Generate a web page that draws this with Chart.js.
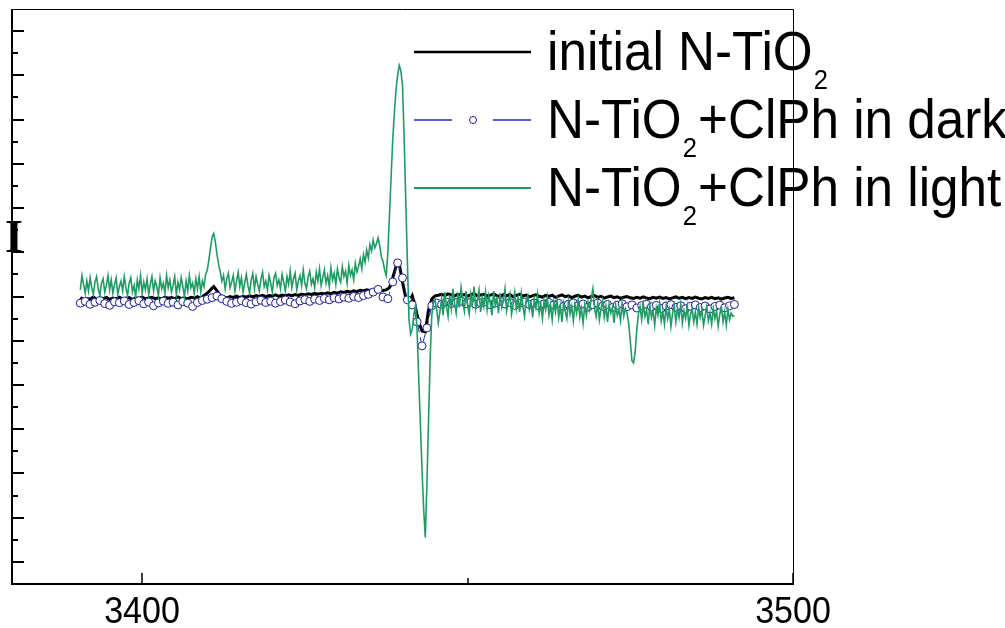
<!DOCTYPE html>
<html>
<head>
<meta charset="utf-8">
<title>EPR spectra N-TiO2</title>
<script src="https://cdn.jsdelivr.net/npm/chart.js@4.4.0/dist/chart.umd.min.js"></script>
<style>
  html, body { margin: 0; padding: 0; background: #fff; }
  #wrap { width: 1005px; height: 628px; }
</style>
</head>
<body>
<div id="wrap"><canvas id="eprChart" width="1005" height="628"></canvas></div>
<script>
// magnetic field sweep (G)
const fieldStart = 3390.5;
const fieldStep = 0.5;      // initial N-TiO2 trace
const lightStep = 0.25;     // light trace, recorded finer
const darkStep = 0.75;      // circle trace

const xTickValues = [3400, 3450, 3500];
const xTickLabels = ['3400', '', '3500'];
const yTickValues = [-12, -11, -10, -9, -8, -7, -6, -5, -4, -3, -2, -1, 0, 1, 2, 3, 4, 5, 6, 7, 8, 9, 10, 11, 12];

const seriesNames = [
    ['initial N-TiO', '2', ''],
    ['N-TiO', '2', '+ClPh in dark'],
    ['N-TiO', '2', '+ClPh in light']
];

// initial N-TiO2
const initialVals = [
    -0.05, -0.15, -0.08, -0.12, -0.02, -0.14, -0.06, -0.10, -0.04, -0.13,
    -0.07, -0.11, -0.03, -0.12, -0.08, -0.05, -0.14, -0.06, -0.09, -0.02,
    -0.11, -0.07, -0.04, -0.10, -0.06, -0.12, -0.03, -0.08, -0.05, -0.10,
    -0.02, -0.09, -0.06, -0.11, -0.04, -0.07, -0.01, -0.08, 0.05, 0.15,
    0.30, 0.45, 0.25, 0.05, -0.02, -0.06, 0.00, -0.04, 0.02, -0.05,
    0.01, -0.03, 0.03, -0.02, 0.04, 0.00, 0.05, -0.01, 0.04, 0.02,
    0.07, 0.01, 0.06, 0.03, 0.08, 0.04, 0.09, 0.05, 0.11, 0.07,
    0.12, 0.09, 0.14, 0.10, 0.15, 0.12, 0.17, 0.13, 0.19, 0.15,
    0.21, 0.18, 0.23, 0.20, 0.26, 0.22, 0.28, 0.25, 0.30, 0.27,
    0.30, 0.32, 0.29, 0.27, 0.30, 0.40, 0.85, 1.35, 1.47, 0.66,
    -0.06, -0.24, 0.03, -0.52, -1.15, -1.56, -1.60, -0.61, -0.11, 0.03,
    0.06, 0.10, 0.04, 0.12, 0.07, 0.02, 0.11, 0.05, 0.09, 0.01,
    0.08, 0.13, 0.03, 0.07, 0.10, 0.02, 0.06, 0.11, 0.04, 0.00,
    0.08, 0.03, 0.09, -0.01, 0.05, 0.10, 0.02, 0.06, -0.02, 0.04,
    0.08, 0.01, -0.03, 0.05, 0.00, 0.06, -0.04, 0.02, 0.07, -0.01,
    0.03, -0.05, 0.01, 0.05, -0.03, 0.02, -0.06, 0.00, 0.04, -0.04,
    0.01, -0.07, -0.02, 0.02, -0.05, -0.01, -0.08, -0.03, 0.00, -0.06,
    -0.09, -0.04, -0.08, -0.02, -0.07, -0.10, -0.04, -0.08, -0.03, -0.09,
    -0.05, -0.11, -0.06, -0.02, -0.08, -0.04, -0.10, -0.05, -0.09, -0.03,
    -0.08, -0.11, -0.05, -0.09, -0.04, -0.10, -0.06, -0.12, -0.07, -0.04,
    -0.09, -0.06
];

// N-TiO2 + ClPh, dark
const darkVals = [
    -0.30, -0.22, -0.35, -0.26, -0.18, -0.32, -0.40, -0.24, -0.28, -0.20,
    -0.36, -0.27, -0.19, -0.33, -0.25, -0.42, -0.29, -0.21, -0.31, -0.26,
    -0.38, -0.23, -0.30, -0.45, -0.27, -0.18, -0.12, -0.05, 0.02, -0.10,
    -0.22, -0.31, -0.26, -0.19, -0.28, -0.34, -0.24, -0.17, -0.27, -0.21,
    -0.30, -0.23, -0.16, -0.25, -0.33, -0.20, -0.14, -0.22, -0.12, -0.18,
    -0.09, -0.15, -0.06, -0.11, -0.03, -0.08, 0.00, -0.05, 0.04, 0.10,
    0.20, 0.32, -0.02, -0.10, 0.66, 1.52, 0.84, -0.15, -0.38, -1.15,
    -2.23, -1.42, -0.42, -0.30, -0.36, -0.25, -0.32, -0.28, -0.21, -0.33,
    -0.26, -0.35, -0.29, -0.24, -0.37, -0.30, -0.22, -0.34, -0.27, -0.40,
    -0.31, -0.25, -0.36, -0.29, -0.43, -0.33, -0.27, -0.38, -0.31, -0.45,
    -0.35, -0.29, -0.41, -0.34, -0.48, -0.37, -0.30, -0.44, -0.36, -0.50,
    -0.39, -0.33, -0.46, -0.38, -0.52, -0.41, -0.35, -0.47, -0.40, -0.54,
    -0.43, -0.37, -0.49, -0.42, -0.55, -0.44, -0.38, -0.50, -0.43, -0.56,
    -0.45, -0.39, -0.51, -0.42, -0.36
];

// N-TiO2 + ClPh, light
const lightVals = [
    0.30, 0.95, 0.55, 0.15, 0.70, 0.25, 0.85, 0.40, 0.10, 0.65,
    0.90, 0.35, 0.05, 0.60, 0.80, 0.20, 0.50, 0.95, 0.30, 0.75,
    0.15, 0.55, 0.85, 0.10, 0.45, 0.70, 0.25, 0.90, 0.40, 0.05,
    0.60, 0.85, 0.20, 0.50, 0.00, 0.75, 0.35, 0.95, 0.15, 0.65,
    0.30, 0.80, 0.10, 0.55, 0.90, 0.25, 0.70, 0.45, 0.05, 0.85,
    0.35, 0.60, 0.15, 0.95, 0.40, 0.75, 0.20, 0.50, 0.90, 0.10,
    0.65, 0.30, 0.85, 0.45, 0.00, 0.70, 0.25, 0.95, 0.40, 0.60,
    0.15, 0.80, 0.35, 0.90, 0.20, 0.70, 0.45, 1.00, 1.20, 1.65,
    2.20, 2.70, 2.85, 2.45, 1.90, 1.45, 1.10, 0.70, 0.95, 0.35,
    0.80, 1.05, 0.40, 0.65, 0.95, 0.25, 0.70, 1.10, 0.45, 0.85,
    0.20, 0.60, 1.00, 0.50, 0.15, 0.75, 1.05, 0.35, 0.90, 0.55,
    0.25, 0.80, 1.10, 0.45, 0.70, 0.30, 0.95, 0.60, 0.20, 0.85,
    1.05, 0.50, 0.75, 0.35, 1.00, 0.65, 0.25, 0.90, 0.55, 1.15,
    0.40, 0.80, 1.05, 0.30, 0.70, 0.95, 0.50, 1.20, 0.60, 0.35,
    0.90, 1.15, 0.55, 0.80, 0.40, 1.10, 0.70, 1.25, 0.50, 0.85,
    1.20, 0.60, 0.95, 0.45, 1.30, 0.75, 1.05, 0.55, 1.25, 0.85,
    0.65, 1.35, 0.90, 1.15, 0.60, 1.40, 0.95, 1.20, 0.75, 1.50,
    1.10, 1.35, 1.70, 1.25, 1.90, 1.55, 2.10, 1.75, 2.35, 2.05,
    2.55, 2.20, 2.40, 2.65, 2.30, 1.80, 1.60, 1.20, 0.95, 2.00,
    3.70, 5.40, 7.10, 8.30, 9.35, 10.00, 10.45, 10.20, 9.55, 7.20,
    4.35, 1.60, -1.05, -1.70, -1.50, -0.80, -0.40, -1.60, -3.75, -5.80,
    -7.85, -9.60, -10.90, -8.50, -5.60, -2.80, -0.85, -0.30, -0.15, -0.60,
    -1.20, -0.70, -0.10, -0.85, 0.20, -0.45, -0.90, 0.05, -0.55, 0.35,
    -0.30, -0.75, 0.15, -0.50, 0.40, -0.20, -0.65, 0.25, -0.40, -0.80,
    0.10, -0.35, 0.45, -0.55, -0.15, 0.30, -0.70, -0.05, -0.45, 0.20,
    -0.60, 0.05, -0.30, -0.85, 0.25, -0.40, -0.10, -0.75, 0.15, -0.50,
    -0.20, 0.35, -0.65, -0.25, 0.10, -0.80, -0.35, 0.20, -0.55, -0.05,
    -0.70, 0.15, -0.45, -0.90, -0.15, 0.05, -0.60, -0.30, -0.95, -0.10,
    -0.50, 0.10, -0.75, -0.35, -1.00, -0.20, -0.60, -0.05, -0.85, -0.40,
    -1.05, -0.25, -0.70, -0.15, -0.95, -0.45, -1.15, -0.30, -0.65, -1.00,
    -0.20, -0.80, -0.45, -1.10, -0.35, -0.75, -0.15, -0.95, -0.55, -1.20,
    -0.40, -0.85, -0.25, -0.60, -0.10, 0.35, -0.50, -0.90, -0.30, -1.05,
    -0.55, -0.20, -0.95, -0.45, -1.15, -0.35, -0.75, -0.50, -1.20, -0.40,
    -0.85, -0.60, -1.10, -0.30, -0.90, -0.55, -0.75, -1.20, -2.00, -2.90,
    -3.00, -2.50, -1.50, -0.80, -0.45, -1.05, -0.35, -0.90, -0.60, -1.25,
    -0.40, -0.95, -0.65, -1.30, -0.50, -0.85, -0.30, -1.10, -0.70, -1.25,
    -0.45, -1.00, -0.60, -1.35, -0.75, -0.40, -1.15, -0.55, -0.95, -0.35,
    -1.20, -0.65, -1.00, -0.45, -1.30, -0.80, -0.55, -1.15, -0.70, -1.25,
    -0.50, -0.95, -0.60, -1.30, -0.85, -0.45, -1.10, -0.75, -1.25, -0.55,
    -1.00, -0.65, -1.35, -0.80, -0.50, -1.15, -0.70, -1.30, -0.60, -1.05,
    -0.75, -0.90, -0.85
];

const black = '#000000';
const navy = '#1c1ca0';
const green = '#1f9c63';
const textSqueeze = 0.915;

function toPoints(vals, step) {
    return vals.map((v, i) => ({ x: fieldStart + i * step, y: v }));
}

// draws a string squeezed horizontally, returns advance width
function squeezedText(ctx, text, x, y, sx) {
    ctx.save();
    ctx.translate(x, y);
    ctx.scale(sx, 1);
    ctx.fillText(text, 0, 0);
    const w = ctx.measureText(text).width * sx;
    ctx.restore();
    return w;
}

const axesPlugin = {
    id: 'axesPlugin',
    afterDatasetsDraw(chart) {
        const ctx = chart.ctx;
        const area = chart.chartArea;
        const xs = chart.scales.x;
        const ys = chart.scales.y;
        ctx.save();

        // legend
        const sampleX0 = 414, sampleX1 = 531, textX = 547;
        const rowY = [52, 120, 188];
        ctx.lineCap = 'butt';
        ctx.strokeStyle = black;
        ctx.lineWidth = 2.5;
        ctx.beginPath(); ctx.moveTo(sampleX0, rowY[0]); ctx.lineTo(sampleX1, rowY[0]); ctx.stroke();
        ctx.strokeStyle = '#2a2ab8';
        ctx.lineWidth = 1.5;
        ctx.beginPath();
        ctx.moveTo(sampleX0, rowY[1]); ctx.lineTo(452, rowY[1]);
        ctx.moveTo(493, rowY[1]); ctx.lineTo(sampleX1, rowY[1]);
        ctx.stroke();
        ctx.fillStyle = '#fff';
        ctx.strokeStyle = navy;
        ctx.lineWidth = 1;
        ctx.beginPath(); ctx.arc(473, rowY[1], 3.5, 0, Math.PI * 2); ctx.fill(); ctx.stroke();
        ctx.strokeStyle = green;
        ctx.lineWidth = 2;
        ctx.beginPath(); ctx.moveTo(sampleX0, rowY[2]); ctx.lineTo(sampleX1, rowY[2]); ctx.stroke();

        ctx.fillStyle = black;
        ctx.textBaseline = 'alphabetic';
        ctx.textAlign = 'left';
        seriesNames.forEach((parts, i) => {
            const base = rowY[i] + 18;
            let x = textX;
            ctx.font = '56px "Liberation Sans", Arial, sans-serif';
            x += squeezedText(ctx, parts[0], x, base, textSqueeze);
            ctx.font = '28px "Liberation Sans", Arial, sans-serif';
            x += squeezedText(ctx, parts[1], x + 1, base + 19, textSqueeze) + 2;
            ctx.font = '56px "Liberation Sans", Arial, sans-serif';
            squeezedText(ctx, parts[2], x, base, textSqueeze);
        });

        // frame
        ctx.strokeStyle = black;
        ctx.lineWidth = 1;
        ctx.beginPath();
        ctx.moveTo(area.left, area.top + 0.5);
        ctx.lineTo(area.right + 0.5, area.top + 0.5);
        ctx.lineTo(area.right + 0.5, area.bottom);
        ctx.stroke();
        ctx.lineWidth = 2;
        ctx.beginPath();
        ctx.moveTo(area.left, area.top);
        ctx.lineTo(area.left, area.bottom);
        ctx.lineTo(area.right + 1, area.bottom);
        ctx.stroke();

        // y ticks, drawn inward
        yTickValues.forEach(v => {
            const py = Math.round(ys.getPixelForValue(v));
            const len = v % 2 === 0 ? 12 : 6;
            ctx.beginPath();
            ctx.moveTo(area.left, py);
            ctx.lineTo(area.left + len, py);
            ctx.stroke();
        });

        // x ticks and labels
        ctx.lineWidth = 1.5;
        xTickValues.forEach((v, i) => {
            const px = Math.round(xs.getPixelForValue(v));
            const len = xTickLabels[i] ? 11 : 6;
            ctx.beginPath();
            ctx.moveTo(px, area.bottom);
            ctx.lineTo(px, area.bottom - len);
            ctx.stroke();
            if (xTickLabels[i]) {
                ctx.font = '37px "Liberation Sans", Arial, sans-serif';
                const w = ctx.measureText(xTickLabels[i]).width * 0.92;
                squeezedText(ctx, xTickLabels[i], px - w / 2, 623, 0.92);
            }
        });

        // intensity axis label
        ctx.font = 'bold 46px "Liberation Serif", "Times New Roman", serif';
        ctx.textAlign = 'center';
        ctx.fillText('I', 14, 252);

        ctx.restore();
    }
};

new Chart(document.getElementById('eprChart').getContext('2d'), {
    type: 'line',
    data: {
        datasets: [
            {
                label: 'initial N-TiO2',
                data: toPoints(initialVals, fieldStep),
                borderColor: black,
                borderWidth: 3,
                pointRadius: 0,
                tension: 0,
                order: 2
            },
            {
                label: 'N-TiO2+ClPh in dark',
                data: toPoints(darkVals, darkStep),
                borderColor: '#2a2ab8',
                borderWidth: 1,
                borderDash: [8, 5],
                pointRadius: 4,
                pointBorderWidth: 1,
                pointBorderColor: navy,
                pointBackgroundColor: '#ffffff',
                tension: 0,
                order: 1
            },
            {
                label: 'N-TiO2+ClPh in light',
                data: toPoints(lightVals, lightStep),
                borderColor: green,
                borderWidth: 1.6,
                pointRadius: 0,
                tension: 0,
                order: 0
            }
        ]
    },
    options: {
        responsive: false,
        animation: false,
        layout: { padding: { left: 12, top: 9, right: 212, bottom: 44 } },
        scales: {
            x: { type: 'linear', min: 3380, max: 3500, display: false },
            y: { type: 'linear', min: -13, max: 13, display: false }
        },
        plugins: {
            legend: { display: false },
            tooltip: { enabled: false }
        }
    },
    plugins: [axesPlugin]
});
</script>
</body>
</html>
